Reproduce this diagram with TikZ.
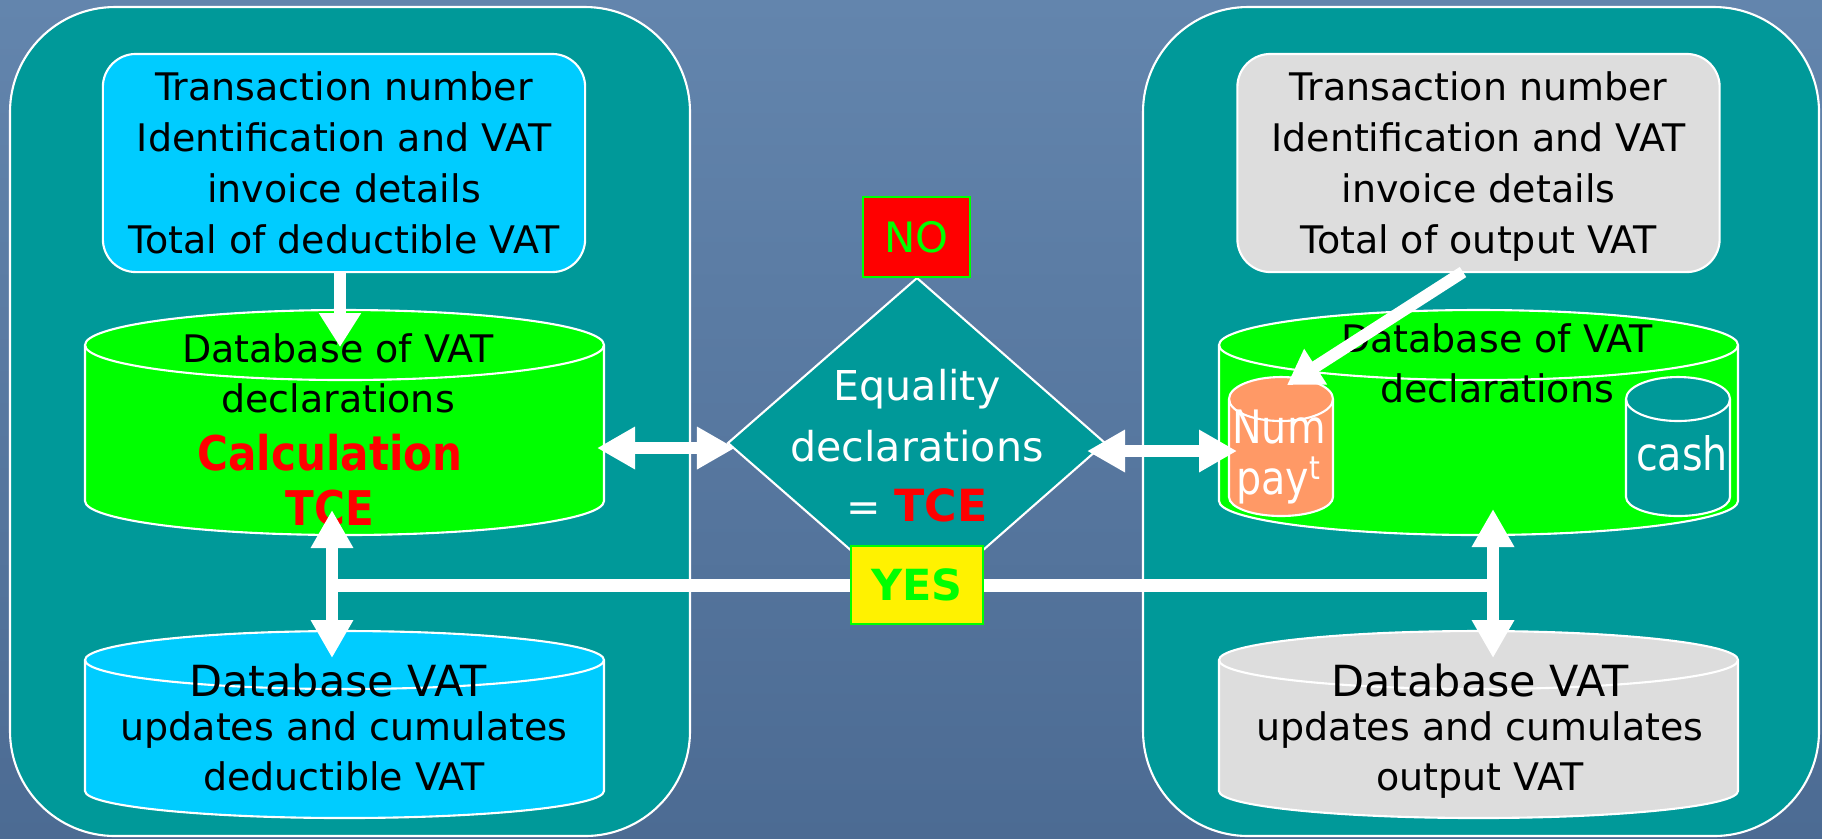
\documentclass[tikz,border=0pt]{standalone}
\usepackage{fontspec}
\setmainfont{DejaVu Sans}
\newfontfamily\narrowf{DejaVu Sans}[FakeStretch=0.86]
\newfontfamily\calcf{DejaVu Sans}[FakeStretch=0.88]
\usetikzlibrary{arrows.meta}
\definecolor{bgtop}{HTML}{6385AD}
\definecolor{bgbot}{HTML}{4C6B93}
\definecolor{panelteal}{HTML}{009999}
\definecolor{skyb}{HTML}{00CCFF}
\definecolor{lgreen}{HTML}{00FF00}
\definecolor{lgray}{HTML}{DDDDDD}
\definecolor{orangeb}{HTML}{FF9966}
\newcommand{\fs}[2]{\fontsize{#1}{#2}\selectfont}
% cylinder: cx, y top centre, y bottom centre, rx, ry top, ry bottom, fill
\newcommand{\dbcyl}[7]{%
  \filldraw[fill=#7, draw=white, line width=0.6pt]
    ({#1-#4},#2) -- ({#1-#4},#3)
    arc[start angle=180, end angle=360, x radius=#4*0.01cm, y radius=#6*0.01cm]
    -- ({#1+#4},#2)
    arc[start angle=0, end angle=180, x radius=#4*0.01cm, y radius=#5*0.01cm] -- cycle;
  \draw[white, line width=0.6pt] ({#1+#4},#2)
    arc[start angle=0, end angle=-180, x radius=#4*0.01cm, y radius=#5*0.01cm];
}
\begin{document}
\begin{tikzpicture}[x=0.01cm, y=-0.01cm,
  panel/.style={fill=panelteal, draw=white, line width=0.6pt, rounded corners=1.05cm},
  topbox/.style={draw=white, line width=0.6pt, rounded corners=0.33cm,
    minimum width=4.82cm, minimum height=2.18cm, align=center, inner sep=0pt,
    text=black, font=\fs{10.8}{14.5}},
  lbl/.style={inner sep=0pt, align=center},
  arr/.style={white, line width=0.12cm, -{Triangle[width=0.4cm,length=0.34cm]}},
  darr/.style={white, line width=0.12cm,
    {Triangle[width=0.4cm,length=0.38cm]}-{Triangle[width=0.4cm,length=0.38cm]}},
  decbox/.style={draw=lgreen, line width=0.6pt, inner sep=0pt, text=lgreen}
]
\useasboundingbox (0,0) rectangle (1822,838);
\shade[top color=bgtop, bottom color=bgbot] (0,0) rectangle (1822,838);

% panels
\path[panel] (10,7) rectangle (690,836);
\path[panel] (1143,7) rectangle (1819,836);

% top boxes
\node[topbox, fill=skyb] (tlbox) at (344,163)
  {Transaction number\\Identification and VAT\\invoice details\\Total of deductible VAT};
\node[topbox, fill=lgray] (trbox) at (1478.5,163)
  {Transaction number\\Identification and VAT\\invoice details\\\raisebox{0pt}[\height][0pt]{Total of output VAT}};

% cylinders
\dbcyl{344.5}{345}{501}{259.5}{35}{34}{lgreen}
\dbcyl{344.5}{660}{791}{259.5}{29}{27}{skyb}
\dbcyl{1478.5}{345}{501}{259.5}{35}{34}{lgreen}
\dbcyl{1478.5}{660}{791}{259.5}{29}{27}{lgray}
\dbcyl{1281}{399}{497}{52}{22}{19}{orangeb}
\dbcyl{1678}{399}{497}{52}{22}{19}{panelteal}

% diamond
\coordinate (dT) at (917,278);
\coordinate (dR) at (1105,443);
\coordinate (dB) at (917,608);
\coordinate (dL) at (728,443);
\filldraw[fill=panelteal, draw=white, line width=0.6pt] (dT) -- (dR) -- (dB) -- (dL) -- cycle;

% connector end points
\coordinate (glin) at (340,347);
\coordinate (glR) at (597,448);
\coordinate (dLa) at (735,448);
\coordinate (dRa) at (1087,451);
\coordinate (numL) at (1237,451);
\coordinate (numT) at (1287,385);
\coordinate (trout) at (1463,272);
\coordinate (glB) at (332,510);
\coordinate (blT) at (332,658);
\coordinate (grB) at (1493,509);
\coordinate (gyT) at (1493,658);

\draw[arr] (tlbox.south -| glin) -- (glin);

% texts
\node[lbl, anchor=north, font=\fs{10.8}{14.2}] (glText) at (338,333)
  {Database of VAT\\declarations};
\node[lbl, anchor=north, text=red, font=\calcf\bfseries\fs{13.6}{15.6}] (glCalc) at (330,433.5)
  {Calculation\\TCE};
\node[lbl, anchor=base, font=\fs{12.2}{14}] (blTitle) at (338,696) {Database VAT};
\node[lbl, anchor=north, font=\fs{10.8}{14.2}] (blText) at (344,711)
  {updates and cumulates\\deductible VAT};
\node[lbl, anchor=north, font=\fs{10.8}{14.2}] (grText) at (1497,323)
  {Database of VAT\\declarations};
\node[lbl, anchor=base, font=\fs{12.2}{14}] (gyTitle) at (1480,696) {Database VAT};
\node[lbl, anchor=north, font=\fs{10.8}{14.2}] (gyText) at (1480,711)
  {updates and cumulates\\output VAT};
\node[lbl, anchor=north, text=white, font=\narrowf\fs{13.1}{14.5}] (numText) at (1279,409.5)
  {Num\\pay\textsuperscript{t}};
\node[lbl, anchor=base, text=white, font=\narrowf\fs{13.1}{14.2}] (cashText) at (1682,470) {cash};
\node[lbl, anchor=north, text=white, font=\fs{11.7}{17.1}] (eq) at (917,369)
  {Equality\\declarations\\= {\fs{12.6}{17.1}\bfseries\color{red}TCE}};

% connectors
\draw[darr] (glR) -- (dLa);
\draw[darr] (dRa) -- (numL);
\draw[arr] (trout) -- (numT);
\draw[darr] (glB) -- (blT);
\draw[darr] (grB) -- (gyT);

% decision labels
\node[decbox, fill=red, minimum width=1.07cm, minimum height=0.8cm, font=\fs{11.9}{14}] (no) at (916.5,237) {NO};
\node[decbox, fill=yellow, minimum width=1.32cm, minimum height=0.78cm, font=\bfseries\fs{12.2}{14}] (yes) at (917,585) {YES};
\draw[white, line width=0.13cm] (yes.center -| glB) -- (yes.west);
\draw[white, line width=0.13cm] (yes.east) -- (yes.center -| grB);
\end{tikzpicture}
\end{document}
